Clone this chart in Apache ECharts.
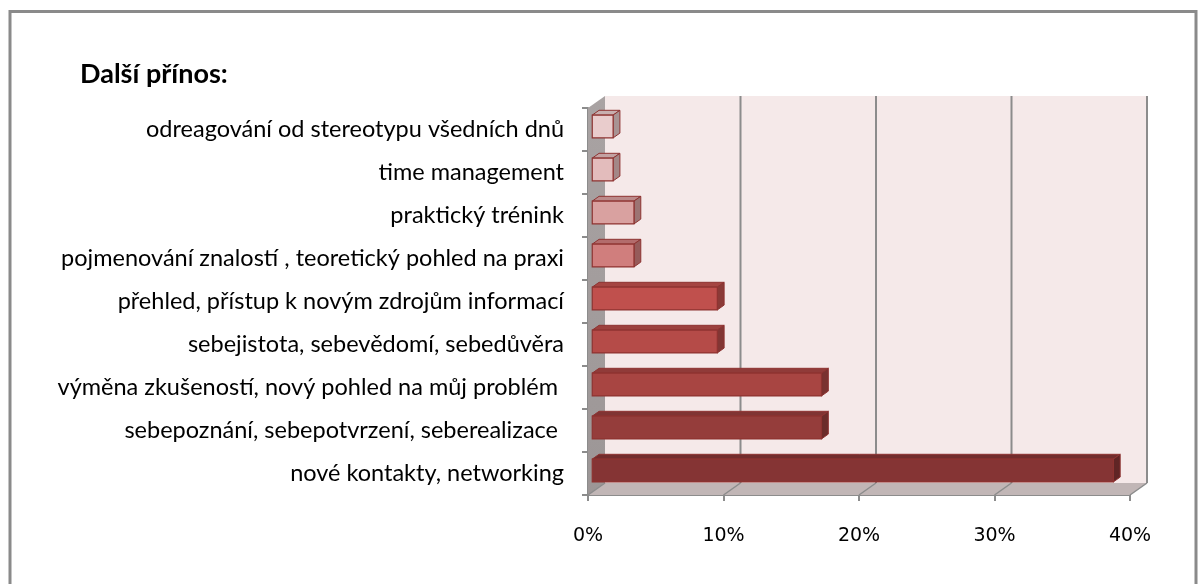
<!DOCTYPE html>
<html>
<head>
<meta charset="utf-8">
<script src="https://cdn.jsdelivr.net/npm/echarts@6/dist/echarts.min.js"></script>
<style>
html,body{margin:0;padding:0;background:#fff;}
#chart{width:1202px;height:584px;}
</style>
</head>
<body>
<div id="chart"></div>
<script>
// ---- data (bottom to top, as ECharts category axis goes) ----
const categories = [
  'nové kontakty, networking',
  'sebepoznání, sebepotvrzení, seberealizace ',
  'výměna zkušeností, nový pohled na můj problém ',
  'sebejistota, sebevědomí, sebedůvěra',
  'přehled, přístup k novým zdrojům informací',
  'pojmenování znalostí , teoretický pohled na praxi',
  'praktický trénink',
  'time management',
  'odreagování od stereotypu všedních dnů'
];
const values = [38.46, 16.92, 16.92, 9.23, 9.23, 3.08, 3.08, 1.54, 1.54];
const xTicks = [0, 10, 20, 30, 40];
const title = 'Další přínos:';

// ---- styles ----
const barColors = ['#853434', '#953d3b', '#a84542', '#b54b48', '#c0504d', '#d07e7d', '#d9a1a0', '#e3bcbc', '#e9cccc'];
const DX = 17, DY = -12;       // depth vector of the 3D box
const D0 = 0.25, D1 = 0.65;    // bar front/back depth fraction
const BAR_FRAC = 0.53;

function shade(hex, f) {
  const n = parseInt(hex.slice(1), 16);
  let r = (n >> 16) & 255, g = (n >> 8) & 255, b = n & 255;
  r = Math.round(r * f); g = Math.round(g * f); b = Math.round(b * f);
  return 'rgb(' + r + ',' + g + ',' + b + ')';
}

function renderWalls(params, api) {
  const cs = params.coordSys;
  const x0 = cs.x, y0 = cs.y, x1 = cs.x + cs.width, y1 = cs.y + cs.height;
  const children = [];
  children.push({type: 'polygon', shape: {points: [[x0 + DX, y0 + DY], [x1 + DX, y0 + DY], [x1 + DX, y1 + DY], [x0 + DX, y1 + DY]]},
    style: {fill: '#f5e9e9'}});
  children.push({type: 'polygon', shape: {points: [[x0, y0], [x0 + DX, y0 + DY], [x0 + DX, y1 + DY], [x0, y1]]},
    style: {fill: new echarts.graphic.LinearGradient(0, 0, 0, 1, [{offset: 0, color: '#a9a3a3'}, {offset: 1, color: '#9c9696'}])}});
  children.push({type: 'polygon', shape: {points: [[x0, y1], [x0 + DX, y1 + DY], [x1 + DX, y1 + DY], [x1, y1]]},
    style: {fill: '#c1b6b6'}});
  xTicks.forEach(function (t) {
    const x = api.coord([t, 0])[0];
    if (t !== 0) {
      children.push({type: 'line', shape: {x1: x + DX, y1: y0 + DY, x2: x + DX, y2: y1 + DY},
        style: {stroke: '#8c8c8c', lineWidth: 2}});
    }
    children.push({type: 'line', shape: {x1: x, y1: y1, x2: x + DX, y2: y1 + DY},
      style: {stroke: '#8c8c8c', lineWidth: 1.5}});
  });
  return {type: 'group', children: children};
}

function renderBar(params, api) {
  const cat = api.value(0), v = api.value(1);
  const p0 = api.coord([0, cat]);
  const p1 = api.coord([v, cat]);
  const band = api.size([0, 1])[1];
  const h = band * BAR_FRAC;
  const fx = DX * D0, fy = DY * D0, bx = DX * D1, by = DY * D1;
  const L = p0[0] + fx, R = p1[0] + fx, T = p0[1] + fy - h / 2, B = p0[1] + fy + h / 2;
  const dx = bx - fx, dy = by - fy;
  const c = barColors[params.dataIndex];
  const stroke = '#8e3331';
  return {type: 'group', children: [
    {type: 'polygon', shape: {points: [[L, T], [R, T], [R + dx, T + dy], [L + dx, T + dy]]},
      style: {fill: shade(c, 0.86), stroke: stroke, lineWidth: 1}},
    {type: 'polygon', shape: {points: [[R, T], [R + dx, T + dy], [R + dx, B + dy], [R, B]]},
      style: {fill: shade(c, 0.72), stroke: stroke, lineWidth: 1}},
    {type: 'rect', shape: {x: L, y: T, width: R - L, height: B - T},
      style: {fill: c, stroke: stroke, lineWidth: 1.2}}
  ]};
}

const chart = echarts.init(document.getElementById('chart'));
chart.setOption({
  animation: false,
  backgroundColor: '#ffffff',
  graphic: [
    {type: 'rect', shape: {x: 10, y: 11.5, width: 1186, height: 600}, style: {fill: 'none', stroke: '#8a8a8a', lineWidth: 3}, z: 0}
  ],
  title: {
    text: title, left: 75, top: 56,
    textStyle: {fontFamily: 'Lato', fontWeight: 'bold', fontSize: 27, color: '#000'}
  },
  grid: {left: 588, right: 72, top: 108, bottom: 89, containLabel: false},
  xAxis: {
    type: 'value', min: 0, max: 40, interval: 10,
    axisLine: {show: true, lineStyle: {color: '#8c8c8c', width: 2}},
    axisTick: {show: true, length: 6, lineStyle: {color: '#8c8c8c', width: 2}},
    splitLine: {show: false},
    axisLabel: {formatter: '{value}%', margin: 32, fontFamily: 'DejaVu Sans', fontSize: 19, color: '#000'}
  },
  yAxis: {
    type: 'category', data: categories,
    axisLine: {show: true, lineStyle: {color: '#8c8c8c', width: 2}},
    axisTick: {show: true, length: 6, lineStyle: {color: '#8c8c8c', width: 2}},
    axisLabel: {margin: 24, fontFamily: 'Lato', fontSize: 23.5, color: '#000'}
  },
  series: [
    {type: 'custom', renderItem: renderWalls, data: [[0, 0]], z: 1, silent: true, encode: {x: 0, y: 1}},
    {type: 'custom', renderItem: renderBar, z: 2,
      encode: {x: 1, y: 0},
      data: values.map(function (v, i) { return [i, v]; })}
  ]
});
</script>
</body>
</html>
